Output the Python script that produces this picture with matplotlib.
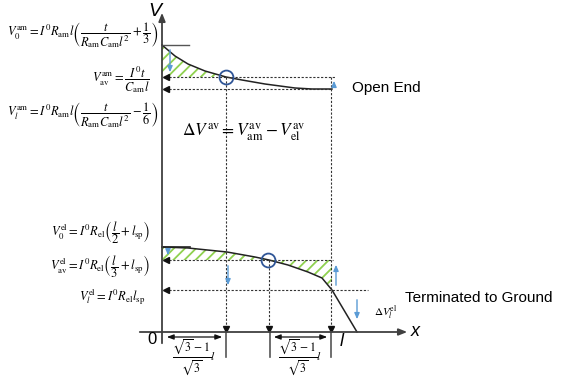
import matplotlib
matplotlib.use('Agg')
import matplotlib.pyplot as plt

plt.rcParams['mathtext.fontset'] = 'stix'
plt.rcParams['font.family'] = ['Liberation Sans', 'DejaVu Sans']
plt.rcParams['hatch.linewidth'] = 1.3

# diagram coordinates: x along the line (l at l_x), V upwards
l_x = 170

# open end (am) curve
am_x = [0, 13, 26, 43, 64, 80, 103, 133, 150, 170]
am_v = [287, 276, 268, 261, 255, 252, 248, 244, 243, 243]
am_levels = {'V0': 287, 'Vav': 255, 'Vl': 243}
am_cross = 64

# terminated to ground (el) curve
el_x = [0, 26, 65, 93, 107, 126, 146, 160, 170, 195]
el_v = [85, 84, 80, 75, 72, 67, 60, 54, 42, 0]
el_levels = {'V0': 85, 'Vav': 72, 'Vl': 42}
el_cross = 107

dark = '#333333'
blue = '#5b9bd5'
ring = '#2f5597'
green = '#8fd14f'

fig = plt.figure(figsize=(5.63, 3.76), dpi=100)
ax = fig.add_axes([0, 0, 1, 1])
ax.set_xlim(-162, 401)
ax.set_ylim(-44, 332)
ax.axis('off')

# axes with arrows
ax.annotate('', xy=(0, 322), xytext=(0, -14),
            arrowprops=dict(arrowstyle='-|>,head_length=0.5,head_width=0.2', color='#404040', lw=1.3))
ax.annotate('', xy=(248, 0), xytext=(-25, 0),
            arrowprops=dict(arrowstyle='-|>,head_length=0.5,head_width=0.2', color='#404040', lw=1.3))
ax.text(-7, 320, 'V', fontsize=14, style='italic', ha='center', va='center')
ax.text(253, 1, 'x', fontsize=13, style='italic', ha='center', va='center')
ax.text(-10, -8, '0', fontsize=12, ha='center', va='center')
ax.text(180, -10, 'l', fontsize=13, style='italic', ha='center', va='center')

dash = dict(color=dark, lw=0.8, ls=(0, (2, 1.5)))

# hatched areas
am_hx = [x for x in am_x if x <= am_cross]
am_hv = am_v[:len(am_hx)]
ax.fill_between(am_hx, am_hv, am_levels['Vav'], facecolor='none',
                edgecolor=green, hatch='///', lw=0)
el_hx = [x for x in el_x if x <= l_x]
el_hv = el_v[:len(el_hx)]
ax.fill_between(el_hx, el_hv, el_levels['Vav'], facecolor='none',
                edgecolor=green, hatch='///', lw=0)

# curves
ax.plot(am_x, am_v, color='#222222', lw=1.1)
ax.plot(el_x, el_v, color='#222222', lw=1.1)
ax.plot([0, 27], [am_levels['V0']] * 2, color='#555555', lw=1)
ax.plot([0, 28], [el_levels['V0']] * 2, color='#222222', lw=1.2)

# horizontal dashed levels with arrowheads at the V axis
for v, xr in [(am_levels['Vav'], 173), (am_levels['Vl'], 170),
              (el_levels['Vav'], 171), (el_levels['Vl'], 206)]:
    ax.plot([3, xr], [v, v], **dash)
    ax.plot(4, v, marker='<', ms=4, color='#111111')

# vertical dashed drops
for x, v in [(am_cross, am_levels['Vav']), (el_cross, el_levels['Vav']),
             (l_x - 1, am_levels['Vav'])]:
    ax.plot([x, x], [v, 3], **dash)
    ax.plot(x, 3, marker='v', ms=4, color='#111111')

# crossing circles
ax.plot(am_cross, am_levels['Vav'], 'o', ms=10, mfc='none', mec=ring, mew=1.3)
ax.plot(el_cross - 1, el_levels['Vav'], 'o', ms=10, mfc='none', mec=ring, mew=1.3)

# blue difference arrows
barrow = dict(arrowstyle='-|>,head_length=0.35,head_width=0.15', color=blue, lw=1)
for x, v0, v1 in [(8, 285, 257), (172, 243, 254),
                  (6, 83, 74), (66, 69, 44), (174, 44, 70), (195, 35, 10)]:
    ax.annotate('', xy=(x, v1), xytext=(x, v0), arrowprops=barrow)

# ticks and distance arrows below the x axis
for x in [64, 108, 169]:
    ax.plot([x, x], [0, -25], color='#555555', lw=1.2)
darrow = dict(arrowstyle='<|-|>,head_length=0.4,head_width=0.15', color='#111111', lw=0.9)
ax.annotate('', xy=(63, -5), xytext=(2, -5), arrowprops=darrow)
ax.annotate('', xy=(168, -5), xytext=(109, -5), arrowprops=darrow)
frac = r'$\dfrac{\sqrt{3}-1}{\sqrt{3}}l$'
ax.text(32, -25, frac, fontsize=8.5, ha='center', va='center')
ax.text(138, -25, frac, fontsize=8.5, ha='center', va='center')

# formulas
fs = 9
ax.text(-4, 297, r'$V_0^{\mathrm{am}} = I^0 R_{\mathrm{am}} l \left( \dfrac{t}{R_{\mathrm{am}} C_{\mathrm{am}} l^2} + \dfrac{1}{3} \right)$',
        fontsize=fs, ha='right', va='center')
ax.text(-12, 252, r'$V_{\mathrm{av}}^{\mathrm{am}} = \dfrac{I^0 t}{C_{\mathrm{am}} l}$',
        fontsize=fs, ha='right', va='center')
ax.text(-4, 217, r'$V_l^{\mathrm{am}} = I^0 R_{\mathrm{am}} l \left( \dfrac{t}{R_{\mathrm{am}} C_{\mathrm{am}} l^2} - \dfrac{1}{6} \right)$',
        fontsize=fs, ha='right', va='center')
ax.text(-12, 99, r'$V_0^{\mathrm{el}} = I^0 R_{\mathrm{el}} \left( \dfrac{l}{2} + l_{\mathrm{sp}} \right)$',
        fontsize=fs, ha='right', va='center')
ax.text(-12, 65, r'$V_{\mathrm{av}}^{\mathrm{el}} = I^0 R_{\mathrm{el}} \left( \dfrac{l}{3} + l_{\mathrm{sp}} \right)$',
        fontsize=fs, ha='right', va='center')
ax.text(-17, 35, r'$V_l^{\mathrm{el}} = I^0 R_{\mathrm{el}} l_{\mathrm{sp}}$',
        fontsize=fs, ha='right', va='center')
ax.text(20, 200, r'$\Delta V^{\mathrm{av}} = V_{\mathrm{am}}^{\mathrm{av}} - V_{\mathrm{el}}^{\mathrm{av}}$',
        fontsize=12.5, ha='left', va='center')
ax.text(212, 20, r'$\Delta V_l^{\mathrm{el}}$', fontsize=8, ha='left', va='center')

ax.text(190, 244, 'Open End', fontsize=11, ha='left', va='center')
ax.text(243, 34, 'Terminated to Ground', fontsize=11, ha='left', va='center')

fig.savefig('out.png', dpi=100)
